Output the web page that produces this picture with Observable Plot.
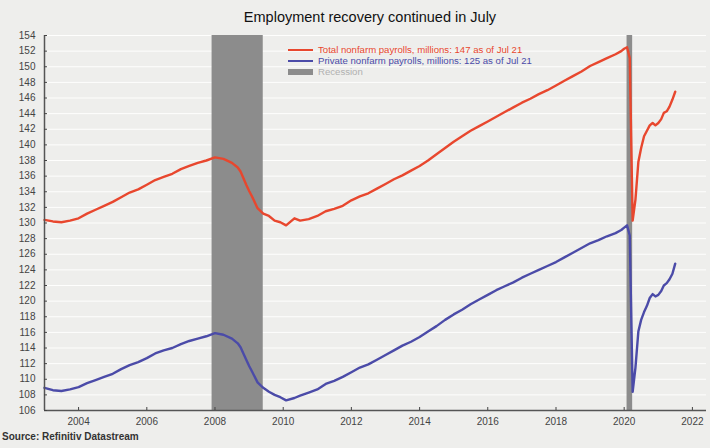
<!DOCTYPE html>
<html><head><meta charset="utf-8">
<script src="https://cdn.jsdelivr.net/npm/d3@7"></script>
<script src="https://cdn.jsdelivr.net/npm/@observablehq/plot@0.6"></script>
<style>
body{margin:0;background:#eeeeec;font-family:"Liberation Sans",Arial,sans-serif;}
#wrap{position:relative;width:710px;height:448px;overflow:hidden;}
#title{height:30px;line-height:34px;text-align:center;padding-left:30px;font-size:14.5px;color:#111;}
#chart{height:400px;}
#source{position:absolute;left:2px;top:431px;font-size:10px;font-weight:bold;color:#333;}
.leg{position:absolute;left:288px;font-size:9.6px;white-space:nowrap;}
.leg .sw{display:inline-block;width:25px;vertical-align:middle;margin-right:5px;}
</style></head>
<body>
<div id="wrap">
<div id="title">Employment recovery continued in July</div>
<div id="chart"></div>
<div class="leg" style="top:44px;color:#e8472e"><span class="sw" style="height:2px;background:#e8472e"></span>Total nonfarm payrolls, millions: 147 as of Jul 21</div>
<div class="leg" style="top:55px;color:#4b4ba8"><span class="sw" style="height:2px;background:#4b4ba8"></span>Private nonfarm payrolls, millions: 125 as of Jul 21</div>
<div class="leg" style="top:66px;color:#b0b0b0"><span class="sw" style="height:6px;background:#8c8c8c"></span>Recession</div>
<div id="source">Source: Refinitiv Datastream</div>
</div>
<script>
const dates = [
"2003-01","2003-04","2003-07","2003-10",
"2004-01","2004-04","2004-07","2004-10",
"2005-01","2005-04","2005-07","2005-10",
"2006-01","2006-04","2006-07","2006-10",
"2007-01","2007-04","2007-07","2007-10",
"2008-01","2008-04","2008-07","2008-09","2008-10","2008-12",
"2009-01","2009-02","2009-04","2009-06","2009-08","2009-10","2009-12",
"2010-02","2010-05","2010-07","2010-10",
"2011-01","2011-04","2011-07","2011-10",
"2012-01","2012-04","2012-07","2012-10",
"2013-01","2013-04","2013-07","2013-10",
"2014-01","2014-04","2014-07","2014-10",
"2015-01","2015-04","2015-07","2015-10",
"2016-01","2016-04","2016-07","2016-10",
"2017-01","2017-04","2017-07","2017-10",
"2018-01","2018-04","2018-07","2018-10",
"2019-01","2019-04","2019-07","2019-10","2019-12",
"2020-01","2020-02","2020-03","2020-04","2020-05","2020-06","2020-07","2020-08","2020-09","2020-10","2020-11","2020-12",
"2021-01","2021-02","2021-03","2021-04","2021-05","2021-06","2021-07"];
const totalPayrolls = [
130.4,130.2,130.1,130.3,
130.6,131.2,131.7,132.2,
132.7,133.3,133.9,134.3,
134.9,135.5,135.9,136.3,
136.9,137.3,137.7,138.0,
138.4,138.2,137.7,137.1,136.6,134.9,
134.1,133.4,131.9,131.2,130.9,130.3,130.1,
129.7,130.6,130.3,130.5,
130.9,131.5,131.8,132.2,
132.9,133.4,133.8,134.4,
135.0,135.6,136.1,136.7,
137.3,138.0,138.8,139.6,
140.4,141.1,141.8,142.4,
143.0,143.6,144.2,144.8,
145.4,145.9,146.5,147.0,
147.6,148.2,148.8,149.4,
150.1,150.6,151.1,151.6,152.0,
152.3,152.5,151.1,130.3,133.0,137.8,139.6,141.1,141.8,142.5,142.8,142.5,
142.8,143.3,144.1,144.3,144.9,145.8,146.8];
const privatePayrolls = [
108.9,108.6,108.5,108.7,
109.0,109.5,109.9,110.3,
110.7,111.3,111.8,112.2,
112.7,113.3,113.7,114.0,
114.5,114.9,115.2,115.5,
115.9,115.7,115.2,114.6,114.1,112.5,
111.7,111.0,109.6,108.9,108.4,108.0,107.7,
107.3,107.6,107.9,108.3,
108.7,109.4,109.8,110.3,
110.9,111.5,111.9,112.5,
113.1,113.7,114.3,114.8,
115.4,116.1,116.8,117.6,
118.3,118.9,119.6,120.2,
120.8,121.4,121.9,122.4,
123.0,123.5,124.0,124.5,
125.0,125.6,126.2,126.8,
127.4,127.8,128.3,128.7,129.1,
129.4,129.7,128.4,108.4,111.5,116.1,117.6,118.6,119.4,120.4,120.9,120.6,
120.8,121.3,122.0,122.3,122.8,123.5,124.8];
const recessionStart = ["2007-12-01","2020-02-01"];
const recessionEnd = ["2009-06-01","2020-04-01"];
const xDomain = ["2003-01-01","2022-06-01"];
const yDomain = [106,154];
const yTicks = d3.range(106,155,2);
const xTickYears = [2004,2006,2008,2010,2012,2014,2016,2018,2020,2022];

const parse = d3.utcParse("%Y-%m");
const rows = dates.map((d,i)=>({date:parse(d), total:totalPayrolls[i], priv:privatePayrolls[i]}));
const recs = recessionStart.map((s,i)=>({x1:new Date(s), x2:new Date(recessionEnd[i])}));
const xStart = new Date(xDomain[0]);
const xTicks = xTickYears.map(y=>new Date(Date.UTC(y,0,1)));

const chart = Plot.plot({
  width:710, height:400,
  marginTop:5, marginBottom:20, marginLeft:44, marginRight:4,
  style:{background:"transparent", fontSize:"10px", fontFamily:"'Liberation Sans',Arial,sans-serif", color:"#444"},
  x:{type:"utc", domain:[xStart, new Date(xDomain[1])]},
  y:{domain:yDomain},
  marks:[
    Plot.gridY(yTicks, {stroke:"#ffffff", strokeOpacity:0.9, strokeWidth:1}),
    Plot.rect(recs, {x1:"x1", x2:"x2", fill:"#8c8c8c"}),
    Plot.lineY(rows, {x:"date", y:"total", stroke:"#e8472e", strokeWidth:2.4}),
    Plot.lineY(rows, {x:"date", y:"priv", stroke:"#4b4ba8", strokeWidth:2.4}),
    Plot.ruleY([yDomain[0]], {stroke:"#555", strokeWidth:1.5}),
    Plot.ruleX([xStart], {stroke:"#555", strokeWidth:1.5}),
    Plot.axisY(yTicks, {tickSize:-3, tickPadding:12, stroke:"#444", fill:"#444"}),
    Plot.axisX(xTicks, {tickSize:-3, tickPadding:10, tickFormat:"%Y", stroke:"#444", fill:"#444"})
  ]
});
document.getElementById("chart").appendChild(chart);
</script>
</body></html>
